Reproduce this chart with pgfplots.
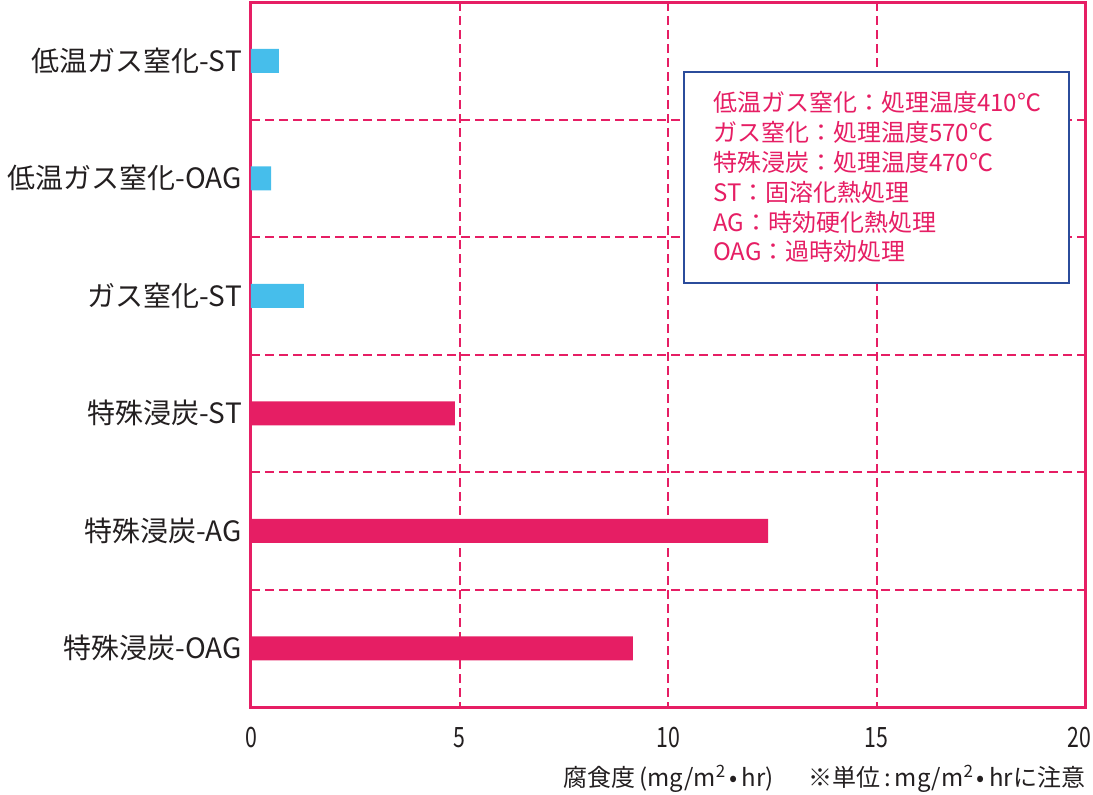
\documentclass[border=0pt]{standalone}
\usepackage{pgfplots}
\pgfplotsset{compat=1.18}
\usepackage{fontspec}
\setmainfont{Noto Sans CJK JP}
\definecolor{pk}{HTML}{E61E64}
\definecolor{cy}{HTML}{46BEEB}
\definecolor{bx}{HTML}{2B4C9B}
\definecolor{tx}{HTML}{231F20}
\newcommand{\sq}[1]{\raisebox{0.38em}{\fontsize{17}{17}\selectfont #1}}
\newcommand{\tk}[1]{\scalebox{0.76}[1]{#1}}
\begin{document}
\begin{tikzpicture}[x=1pt,y=1pt]
\useasboundingbox (0,0) rectangle (1093,795);
\begin{axis}[
  at={(251pt,88pt)}, anchor=south west,
  scale only axis, width=834pt, height=705pt,
  xmin=0, xmax=20, ymin=-0.5, ymax=5.5,
  y dir=reverse,
  axis line style={pk, line width=3pt},
  xtick={0,5,10,15,20},
  xticklabels={\tk{0},\tk{5},\tk{10},\tk{15},\tk{20}\kern12pt},
  ytick={0,1,2,3,4,5},
  yticklabels={低温ガス窒化-ST,低温ガス窒化-OAG,ガス窒化-ST,特殊浸炭-ST,特殊浸炭-AG,特殊浸炭-OAG},
  minor ytick={0.5,1.5,2.5,3.5,4.5},
  major tick length=0pt, minor tick length=0pt,
  xmajorgrids, yminorgrids,
  grid style={pk, line width=2pt, dash pattern=on 9pt off 5pt},
  major grid style={pk, line width=2pt, dash pattern=on 9pt off 5pt},
  minor grid style={pk, line width=2pt, dash pattern=on 9pt off 5pt},
  yticklabel style={font=\fontsize{28}{28}\selectfont, text=tx, inner sep=0pt, xshift=-9pt},
  xticklabel style={font=\fontsize{28}{28}\selectfont, text=tx, inner sep=0pt, yshift=-20pt},
  xbar, bar width=24pt, bar shift=0pt,
]
\addplot[draw=none, fill=cy] coordinates {(0.67,0) (0.48,1) (1.27,2)};
\addplot[draw=none, fill=pk] coordinates {(4.89,3) (12.4,4) (9.16,5)};
\end{axis}
\draw[bx, line width=2pt, fill=white] (684,512) rectangle (1069,723);
\begin{scope}[every node/.style={anchor=base west, inner sep=0pt, text=pk, font=\fontsize{24}{24}\selectfont}]
\node at (713,683) {低温ガス窒化：処理温度410℃};
\node at (713,653.2) {ガス窒化：処理温度570℃};
\node at (713,623.4) {特殊浸炭：処理温度470℃};
\node at (713,593.6) {ST：固溶化熱処理};
\node at (713,563.8) {AG：時効硬化熱処理};
\node at (713,534) {OAG：過時効処理};
\end{scope}
\begin{scope}[every node/.style={anchor=base west, inner sep=0pt, text=tx, font=\fontsize{24}{24}\selectfont}]
\node at (563,8) {腐食度\,(mg/m\sq{2}\,•\,hr)};
\node at (808,8) {※単位\,:\,mg/m\sq{2}\,•\,hrに注意};
\end{scope}
\end{tikzpicture}
\end{document}
